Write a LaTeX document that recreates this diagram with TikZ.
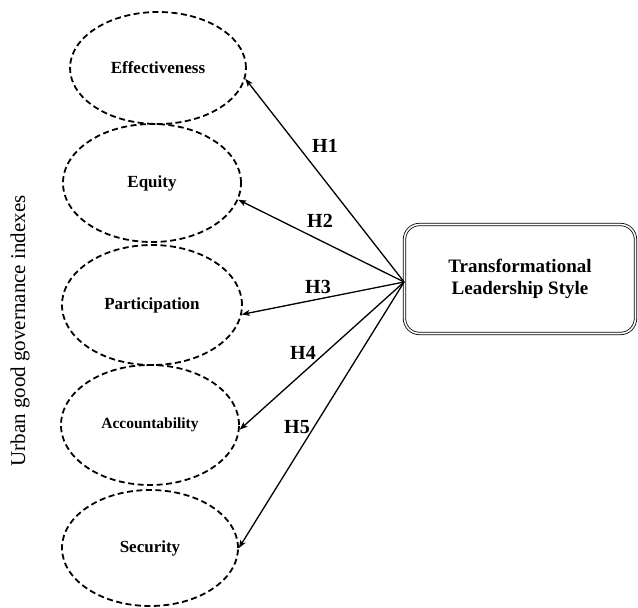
\documentclass[tikz,border=0pt]{standalone}
\usepackage{fontspec}
\setmainfont{Liberation Serif}
\usetikzlibrary{shapes.geometric,arrows.meta}
\begin{document}
\begin{tikzpicture}[x=1pt,y=-1pt,
  construct/.style={ellipse,draw,dashed,line width=1.8pt,
    dash pattern=on 6pt off 3.5pt,inner sep=0pt,
    minimum width=176pt,minimum height=112pt,
    font=\fontsize{17}{19}\selectfont\bfseries},
  leader/.style={draw,rounded corners=15pt,double,line width=0.8pt,
    double distance=1.6pt,minimum width=231pt,minimum height=109pt,
    align=center,font=\fontsize{19}{22}\selectfont\bfseries},
  hyp/.style={-{Stealth[length=8pt,width=6pt,inset=2pt]},line width=1.3pt},
  hlabel/.style={font=\fontsize{20}{22}\selectfont\bfseries}]
\useasboundingbox (0,0) rectangle (638,608);

% latent constructs of urban good governance
\node[construct] (eff) at (158,68) {Effectiveness};
\node[construct,minimum width=178pt,minimum height=118pt] (equ) at (152,183) {Equity};
\node[construct,minimum width=180pt,minimum height=120pt] (par) at (152,305) {Participation};
\node[construct,minimum width=178pt,minimum height=120pt,
  font=\fontsize{15.5}{18}\selectfont\bfseries] (acc) at (150,425) {Accountability};
\node[construct,minimum width=176pt,minimum height=116pt] (sec) at (150,548) {Security};

% group caption
\node[rotate=90,font=\fontsize{21}{24}\selectfont] (grp) at (20,331) {Urban good governance indexes};

% independent variable
\node[leader] (tls) at (520,279) {Transformational\\Leadership Style};
\coordinate (hub) at ([yshift=-3pt]tls.west);

% hypothesised paths
\draw[hyp] (hub) -- (eff.-7);
\draw[hyp] (hub) -- (equ.-11);
\draw[hyp] (hub) -- (par.-6);
\draw[hyp] (hub) -- (acc.-3);
\draw[hyp] (hub) -- (sec.0);

\node[hlabel] (h1) at (325,146) {H1};
\node[hlabel] (h2) at (320,221) {H2};
\node[hlabel] (h3) at (318,287) {H3};
\node[hlabel] (h4) at (303,353) {H4};
\node[hlabel] (h5) at (297,427) {H5};
\end{tikzpicture}
\end{document}
